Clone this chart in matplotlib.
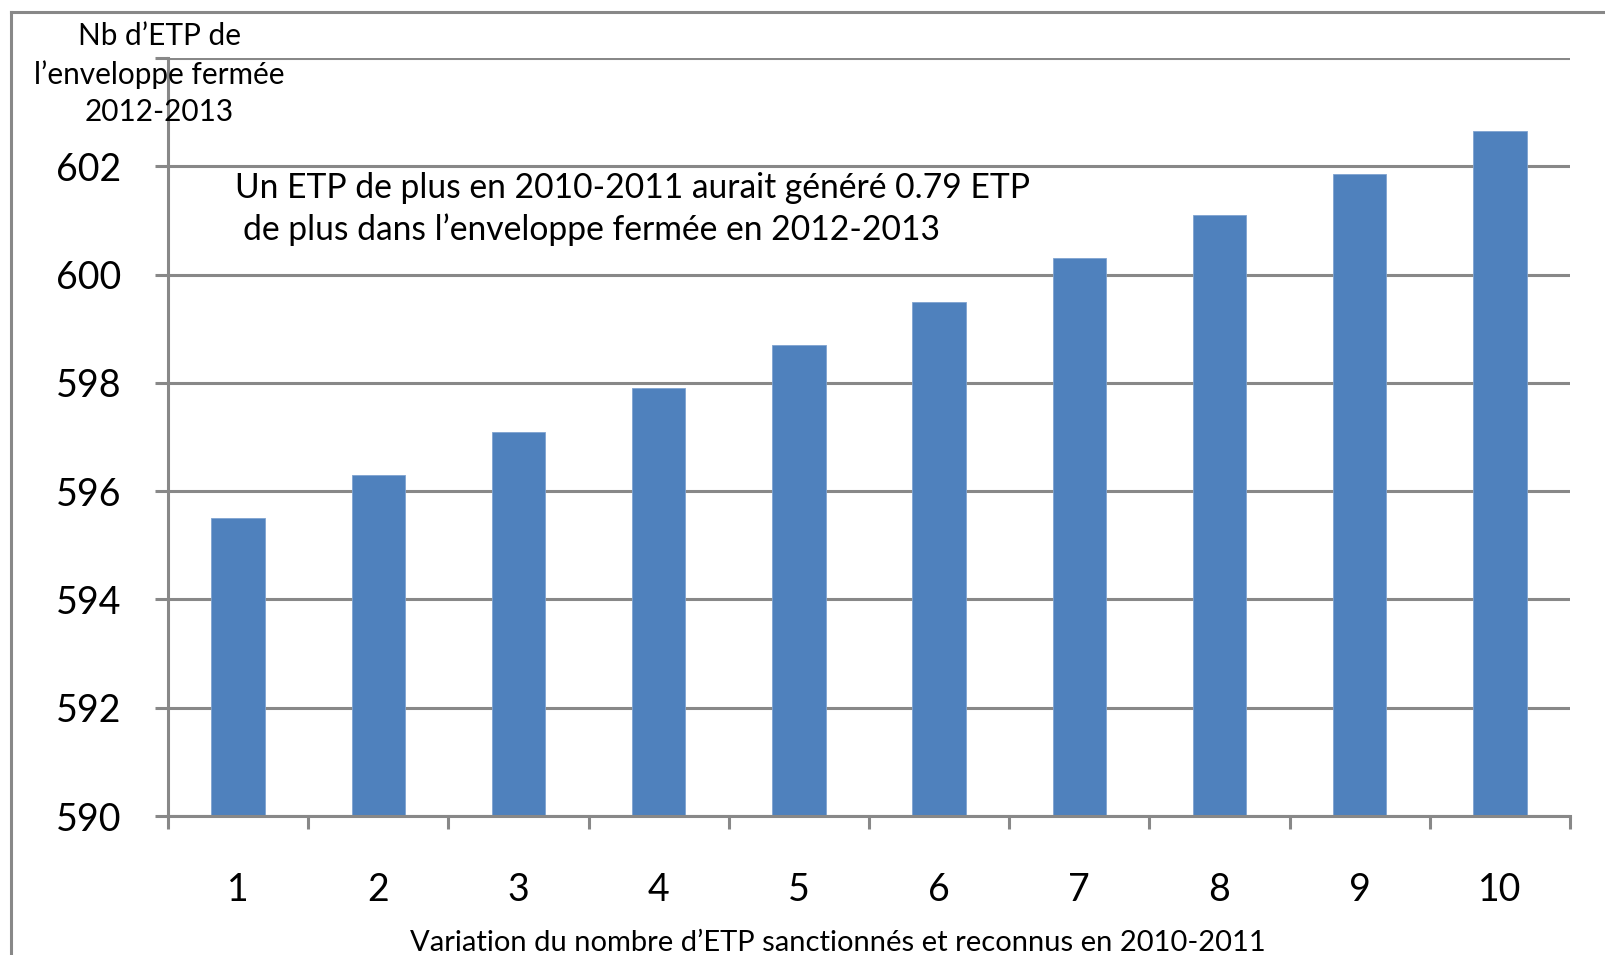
import matplotlib
matplotlib.use("Agg")
import matplotlib.pyplot as plt
from matplotlib.lines import Line2D
from matplotlib.ticker import FixedLocator, NullFormatter

plt.rcParams['font.family'] = ['Lato', 'DejaVu Sans']

# données
categories = ['1', '2', '3', '4', '5', '6', '7', '8', '9', '10']
valeurs = [595.5, 596.3, 597.1, 597.9, 598.7, 599.5, 600.3, 601.1, 601.85, 602.65]
y_ticks = [590, 592, 594, 596, 598, 600, 602, 604]
y_labels = ['590', '592', '594', '596', '598', '600', '602', '']

gris = '#888888'
bleu = '#4f81bd'

W, H = 1605, 955
fig = plt.figure(figsize=(W / 100, H / 100), dpi=100)
ax = fig.add_axes([168 / W, 1 - 816 / H, (1570 - 168) / W, (816 - 58) / H])

x = list(range(len(categories)))
ax.bar(x, [v - 590 for v in valeurs], bottom=590, width=0.38, color=bleu,
       edgecolor='#7fa3d0', linewidth=0.6, zorder=3)

ax.set_xlim(-0.5, len(categories) - 0.5)
ax.set_ylim(590, 604)

# axe y
ax.set_yticks(y_ticks)
ax.set_yticklabels(y_labels, fontsize=27)
ax.tick_params(axis='y', direction='out', length=9.5, width=2.2, color=gris, pad=24)
ax.grid(axis='y', color=gris, linewidth=2.2, zorder=0)

# axe x : traits aux limites des catégories, étiquettes au centre
ax.xaxis.set_major_locator(FixedLocator([i - 0.5 for i in range(len(categories) + 1)]))
ax.xaxis.set_major_formatter(NullFormatter())
ax.xaxis.set_minor_locator(FixedLocator(x))
ax.set_xticklabels(categories, minor=True, fontsize=27)
ax.tick_params(axis='x', which='major', direction='out', length=9, width=2.2, color=gris)
ax.tick_params(axis='x', which='minor', length=0, pad=40)

for s in ['top', 'right']:
    ax.spines[s].set_visible(False)
for s in ['left', 'bottom']:
    ax.spines[s].set_color(gris)
    ax.spines[s].set_linewidth(2.2)
    ax.spines[s].set_zorder(4)

# cadre extérieur
fig.add_artist(Line2D([11 / W, 11 / W], [0, 1 - 12 / H], color=gris, linewidth=2.2))
fig.add_artist(Line2D([11 / W, 1], [1 - 12 / H, 1 - 12 / H], color=gris, linewidth=2.2))

# titres des axes
fig.text(159 / W, 1 - 74 / H, "Nb d’ETP de\nl’enveloppe fermée\n2012-2013",
         ha='center', va='center', fontsize=21.4, linespacing=1.42)
fig.text(838 / W, 1 - 943 / H, "Variation du nombre d’ETP sanctionnés et reconnus en 2010-2011",
         ha='center', va='center', fontsize=21)

# annotation
fig.text(235 / W, 1 - 188 / H, "Un ETP de plus en 2010-2011 aurait généré 0.79 ETP",
         ha='left', va='center', fontsize=24.2)
fig.text(243 / W, 1 - 230 / H, "de plus dans l’enveloppe fermée en 2012-2013",
         ha='left', va='center', fontsize=24.2)

fig.savefig('out.png', dpi=100)
